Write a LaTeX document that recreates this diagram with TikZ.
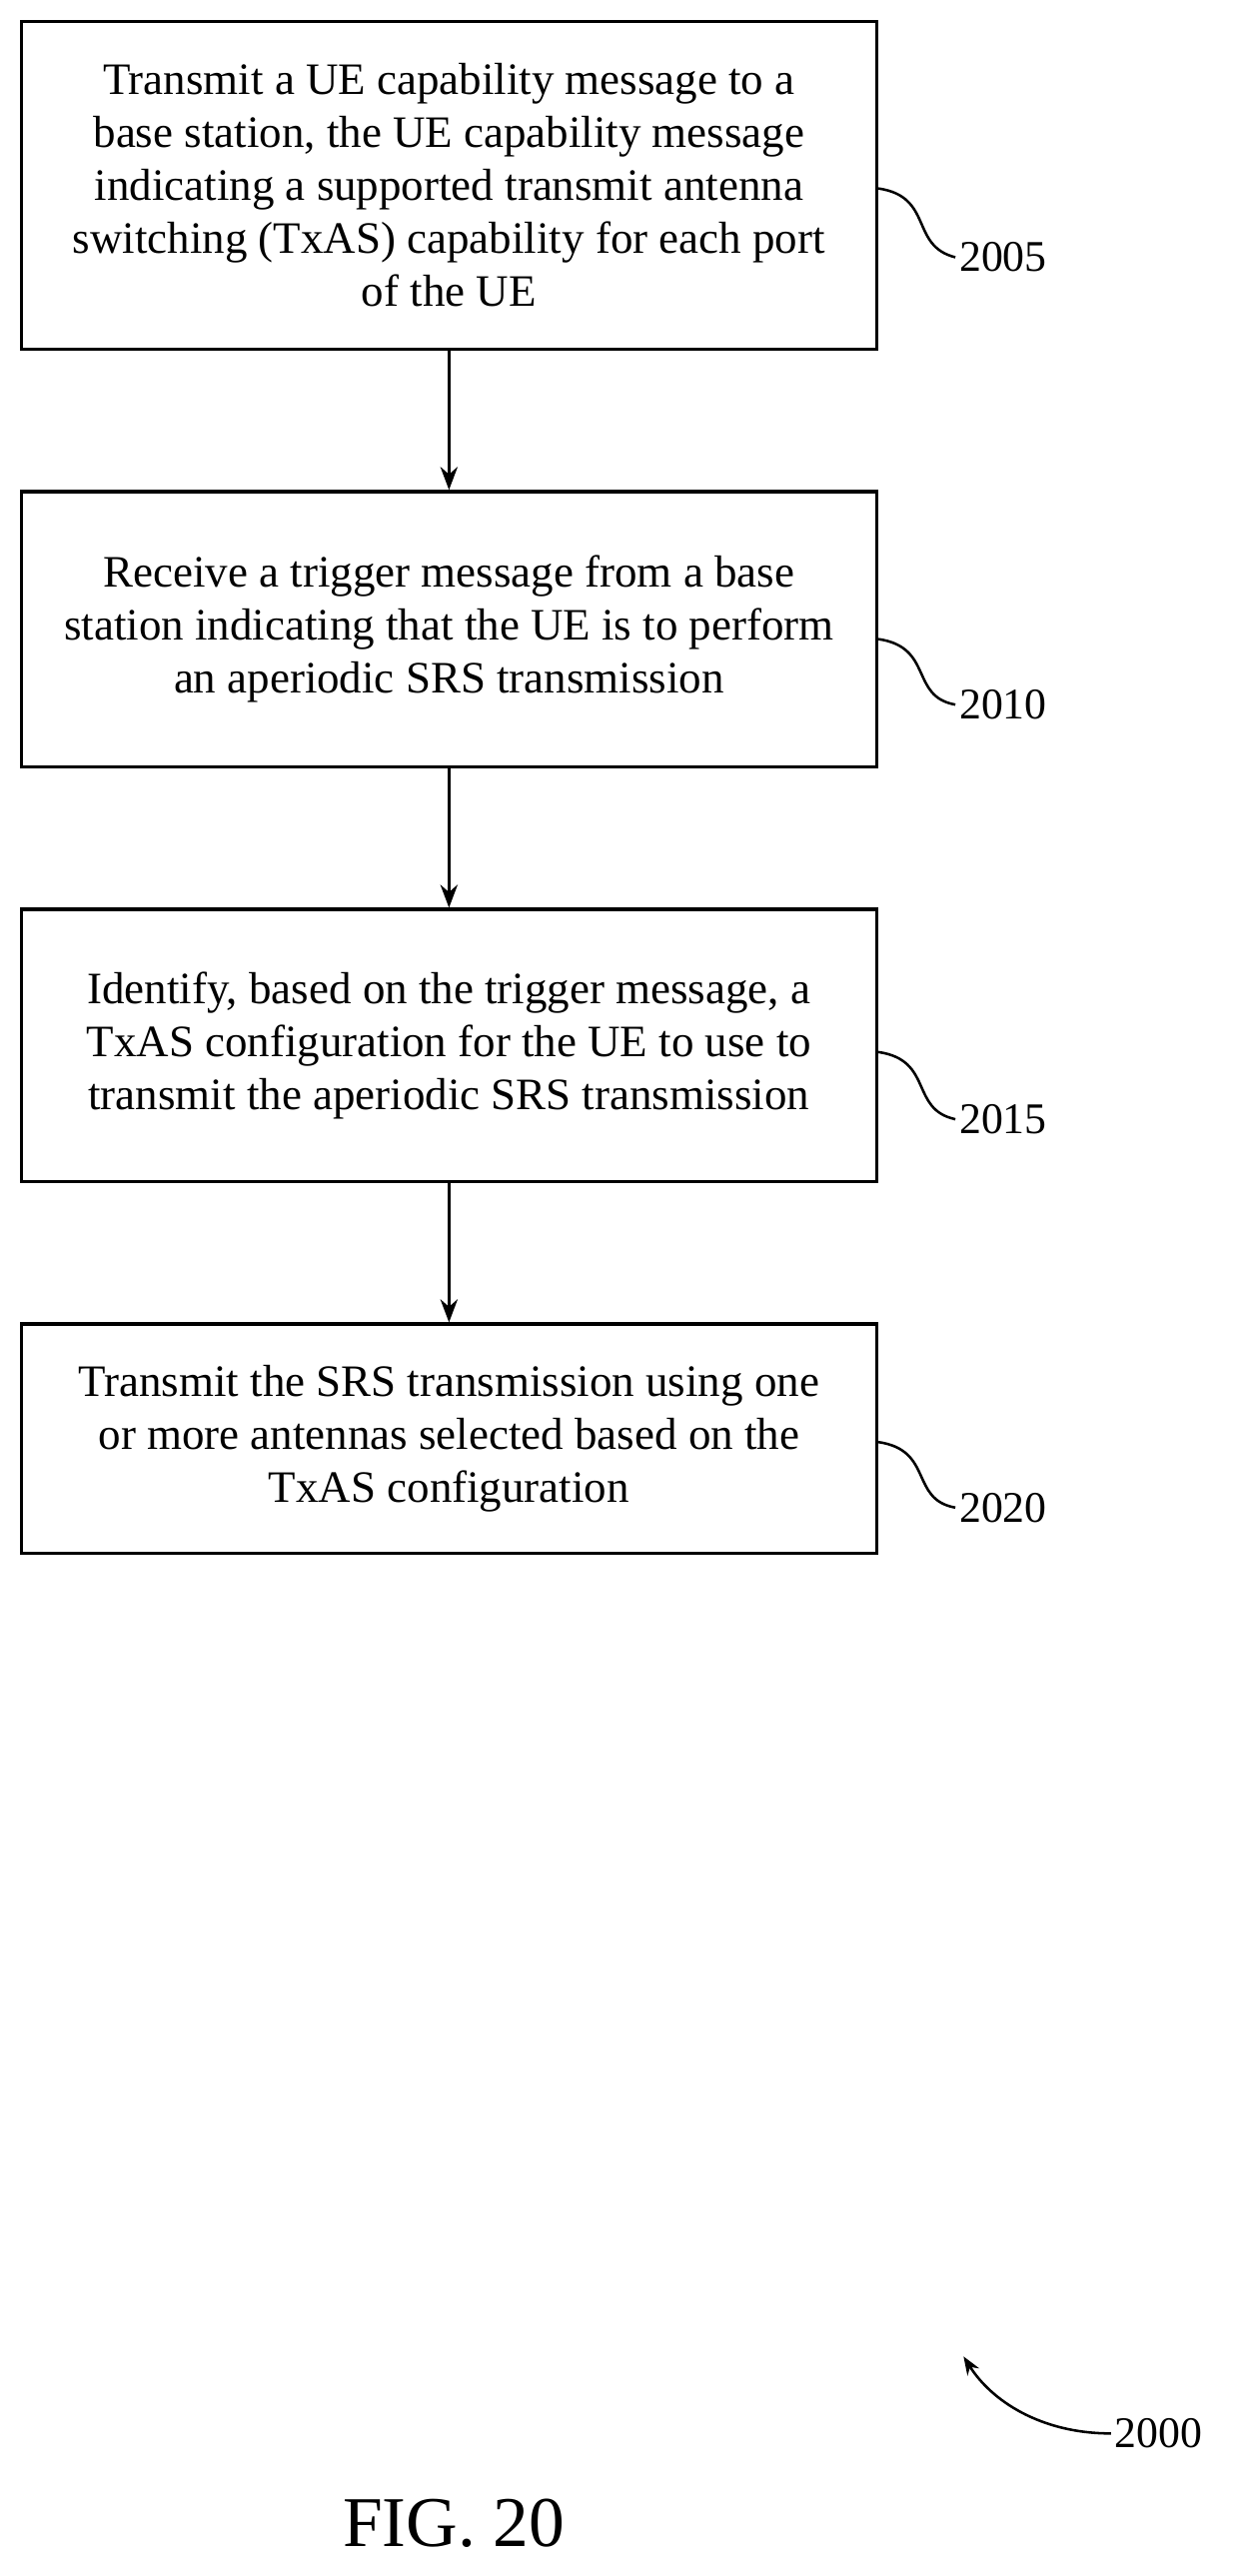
\documentclass[tikz,border=0pt]{standalone}
\usepackage{fontspec}
\usetikzlibrary{arrows.meta}
\setmainfont{Liberation Serif}
\begin{document}
\begin{tikzpicture}[x=0.05cm,y=-0.05cm,
  box/.style={draw,line width=3pt,minimum width=26.1cm,align=center,font=\fontsize{39}{46}\selectfont,inner sep=0pt},
  lab/.style={font=\fontsize{38}{44}\selectfont,anchor=west},
  arr/.style={line width=2.5pt,-{Stealth[length=20pt,width=15pt]}},
  sq/.style={line width=2.2pt}]
\useasboundingbox (0,0) rectangle (763,1572);
\node[box,minimum height=10cm] (b1) at (274,113) {Transmit a UE capability message to a\\base station, the UE capability message\\indicating a supported transmit antenna\\switching (TxAS) capability for each port\\of the UE};
\node[box,minimum height=8.4cm] (b2) at (274,384) {Receive a trigger message from a base\\station indicating that the UE is to perform\\an aperiodic SRS transmission};
\node[box,minimum height=8.3cm] (b3) at (274,638) {Identify, based on the trigger message, a\\TxAS configuration for the UE to use to\\transmit the aperiodic SRS transmission};
\node[box,minimum height=7cm] (b4) at (274,878) {Transmit the SRS transmission using one\\or more antennas selected based on the\\TxAS configuration};
\draw[arr] (b1) -- (b2);
\draw[arr] (b2) -- (b3);
\draw[arr] (b3) -- (b4);
\node[lab] (l1) at (583,157) {2005};
\node[lab] (l2) at (583,430) {2010};
\node[lab] (l3) at (583,683) {2015};
\node[lab] (l4) at (583,920) {2020};
\draw[sq] (b1.east |- 0,115) .. controls (570,120) and (555,150) .. (l1.west);
\draw[sq] (b2.east |- 0,390) .. controls (570,395) and (555,425) .. (l2.west);
\draw[sq] (b3.east |- 0,642) .. controls (570,647) and (555,677) .. (l3.west);
\draw[sq] (b4.east |- 0,880) .. controls (570,885) and (555,915) .. (l4.west);
\node[lab] (l0) at (678,1485) {2000};
\coordinate (t0) at (588,1438);
\draw[sq,-{Stealth[length=16pt,width=12pt]}] (l0.west) .. controls (635,1485) and (605,1465) .. (t0);
\node[font=\fontsize{62}{70}\selectfont] (fig) at (277,1540) {FIG. 20};
\end{tikzpicture}
\end{document}
